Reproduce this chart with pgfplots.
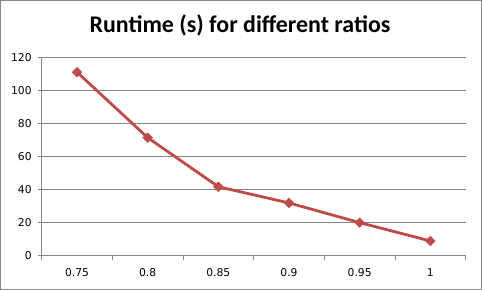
\documentclass[border=0pt]{standalone}
\usepackage{pgfplots}
\pgfplotsset{compat=1.18}
\usepackage{fontspec}
\setmainfont{DejaVu Sans}
\newfontfamily\titlefont{Carlito}
\definecolor{exred}{HTML}{BE4B48}
\definecolor{exgray}{HTML}{868686}
\begin{document}
\begin{tikzpicture}
\begin{axis}[
  at={(0,0)}, anchor=origin,
  scale only axis,
  width=424bp, height=198.4bp,
  xmin=0.5, xmax=6.5, ymin=0, ymax=120,
  axis x line=bottom, axis y line=left,
  axis line style={-, exgray, line width=0.8bp},
  xtick={1,2,3,4,5,6},
  xticklabels={0.75,0.8,0.85,0.9,0.95,1},
  minor xtick={0.5,1.5,2.5,3.5,4.5,5.5,6.5},
  ytick={0,20,40,60,80,100,120},
  tick align=outside,
  major x tick style={draw=none},
  minor x tick style={exgray, line width=0.8bp},
  minor tick length=4bp,
  major y tick style={exgray, line width=0.8bp},
  major tick length=4bp,
  ymajorgrids,
  grid style={exgray, line width=0.8bp},
  /pgf/number format/assume math mode=true,
  ticklabel style={font=\fontsize{10.8}{12}\selectfont, text=black},
  xticklabel shift=5.5bp,
  yticklabel shift=2.5bp,
  clip=false,
]
\addplot[exred, line width=2.8bp, mark=square*, mark size=3.4bp,
  mark options={rotate=45, fill=exred, draw=exred, line width=0.5bp}]
  coordinates {(1,111) (2,71.4) (3,41.7) (4,31.9) (5,20) (6,8.9)};
\end{axis}
\draw[exgray, line width=1bp] (-41.2bp,-33.8bp) rectangle (439.8bp,255.2bp);
\node[font=\titlefont\bfseries\fontsize{24}{28}\selectfont, anchor=center] at (198.3bp,230bp) {Runtime (s) for different ratios};
\end{tikzpicture}
\end{document}
